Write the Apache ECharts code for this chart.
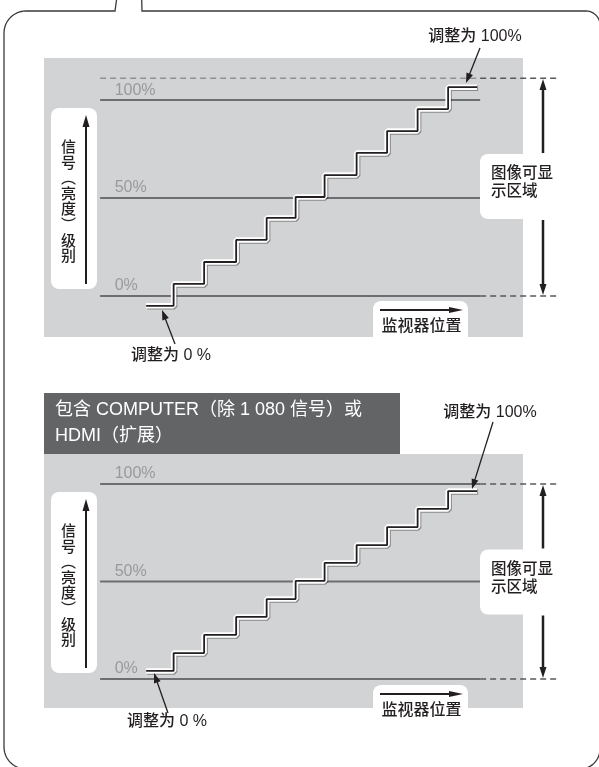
<!DOCTYPE html>
<html>
<head>
<meta charset="utf-8">
<script src="https://cdn.jsdelivr.net/npm/echarts@6/dist/echarts.min.js"></script>
<style>
  html, body { margin: 0; padding: 0; background: #fff; }
  #chart { width: 599px; height: 767px; }
</style>
</head>
<body>
<div id="chart"></div>
<script>
// 横向：监视器位置（单位 = 一级台阶宽度），纵向：信号电平 %
const stepX = [3.35, 4.25, 5.25, 6.3, 7.3, 8.25, 9.2, 10.25, 11.25, 12.25, 13.25, 14.2];
// 上图：调整后 0% 与 100% 都超出范围
const stepsTop = [-5.1, 6.1, 17.3, 28.6, 39.8, 50.5, 61.7, 73.0, 84.2, 95.4, 106.6, 106.6];
// 下图：COMPUTER / HDMI（扩展）
const stepsBottom = [4.1, 13.3, 22.6, 31.8, 41.0, 50.3, 59.5, 68.7, 77.9, 87.2, 96.4, 96.4];
const levelValues = [0, 50, 100];
const levelLabels = ['0%', '50%', '100%'];
const visibleTop = [111.2, 100]; // 图像可显示区域上沿
const lineFrom = 1.84, lineTo = 14.3, dashTo = 16.92, labelX = 2.3;

const FONT = '"Liberation Sans", "Noto Sans CJK SC", sans-serif';
const INK = '#231f20';
const GRAY = '#6d6e71';

function panelSeries(g, steps, top) {
    const s = [];
    levelValues.forEach(v => {
        s.push({
            type: 'line', xAxisIndex: g, yAxisIndex: g, symbol: 'none', silent: true,
            data: [[lineFrom, v], [lineTo, v]],
            lineStyle: { color: GRAY, width: 2 }
        });
    });
    if (top > 100) {
        s.push({
            type: 'line', xAxisIndex: g, yAxisIndex: g, symbol: 'none', silent: true,
            data: [[lineFrom, top], [lineTo, top]],
            lineStyle: { color: '#8f9194', width: 1.5, type: [6, 4] }
        });
    }
    [top, 0].forEach(v => {
        s.push({
            type: 'line', xAxisIndex: g, yAxisIndex: g, symbol: 'none', silent: true,
            data: [[lineTo, v], [dashTo, v]],
            lineStyle: { color: '#58595b', width: 1.5, type: [6, 4] }
        });
    });
    // 台阶：白色描边 + 黑线
    s.push({
        type: 'line', xAxisIndex: g, yAxisIndex: g, symbol: 'none', step: 'end', silent: true,
        data: stepX.map((x, i) => [x, steps[i]]),
        lineStyle: { color: '#fff', width: 5.5, shadowColor: 'rgba(0,0,0,0.35)', shadowOffsetX: 1, shadowOffsetY: 1 },
        z: 3
    });
    s.push({
        type: 'line', xAxisIndex: g, yAxisIndex: g, symbol: 'none', step: 'end', silent: true,
        data: stepX.map((x, i) => [x, steps[i]]),
        lineStyle: { color: INK, width: 1.8 },
        z: 4
    });
    s.push({
        type: 'scatter', xAxisIndex: g, yAxisIndex: g, symbolSize: 1, silent: true,
        itemStyle: { color: 'rgba(0,0,0,0)' },
        data: levelValues.map(v => [labelX, v]),
        label: {
            show: true, position: 'right', distance: 0, offset: [0, -10],
            formatter: p => levelLabels[p.dataIndex],
            color: '#8a8c8f', fontSize: 16, fontFamily: FONT
        }
    });
    return s;
}

function arrow(x1, y1, x2, y2, w, head, half) {
    const dx = x2 - x1, dy = y2 - y1, len = Math.sqrt(dx * dx + dy * dy);
    const ux = dx / len, uy = dy / len;
    const bx = x2 - ux * head, by = y2 - uy * head;
    return [
        { type: 'line', z: 110, shape: { x1: x1, y1: y1, x2: bx + ux, y2: by + uy }, style: { stroke: INK, lineWidth: w } },
        { type: 'polygon', z: 110, shape: { points: [[x2, y2], [bx - uy * half, by + ux * half], [bx + uy * half, by - ux * half]] }, style: { fill: INK } }
    ];
}

function text(t, x, y, size, opts) {
    return Object.assign({
        type: 'text', z: 120,
        style: { text: t, x: x, y: y, font: '500 ' + size + 'px ' + FONT, fill: INK, align: 'center', verticalAlign: 'middle' }
    }, opts || {});
}

function decor(dy, rightMid, rTop, rBot, grayTop, grayH) {
    const els = [];
    // 灰色底
    els.push({ type: 'rect', z: 0, shape: { x: 44, y: grayTop, width: 479, height: grayH }, style: { fill: '#d1d3d4' } });
    // 左侧纵轴说明
    els.push({ type: 'rect', z: 100, shape: { x: 51, y: 108 + dy, width: 46, height: 181, r: 8 }, style: { fill: '#fff' } });
    els.push(...arrow(86, 284 + dy, 86, 115 + dy, 2, 12, 3.5));
    const vt = text('信\n号\n︵\n亮\n度\n︶\n级\n别', 68.5, 202.5 + dy, 15);
    vt.style.lineHeight = 15.6;
    els.push(vt);
    // 底部 监视器位置
    els.push({ type: 'rect', z: 100, shape: { x: 373, y: 301 + dy, width: 95, height: 45, r: [8, 8, 0, 0] }, style: { fill: '#fff' } });
    els.push(...arrow(380, 310 + dy, 463, 310 + dy, 2, 14, 3));
    els.push(text('监视器位置', 421.5, 327 + dy, 16));
    // 右侧 图像可显示区域
    els.push({ type: 'rect', z: 100, shape: { x: 480, y: rightMid - 32, width: 130, height: 65, r: 8 }, style: { fill: '#fff' } });
    const rt = text('图像可显\n示区域', 491, rightMid - 3, 15.5);
    rt.style.align = 'left';
    rt.style.lineHeight = 18;
    els.push(rt);
    els.push(...arrow(543, rightMid - 33, 543, rTop + 1, 2.5, 11, 3.5));
    els.push(...arrow(543, rightMid + 34, 543, rBot - 1, 2.5, 11, 3.5));
    return els;
}

// 外框（圆角 + 顶部接口）
function framePoints() {
    const pts = [[116.5, 0], [115, 11]];
    const corner = (cx, cy, r, a0, a1) => {
        for (let i = 0; i <= 12; i++) {
            const a = a0 + (a1 - a0) * i / 12;
            pts.push([cx + r * Math.cos(a), cy + r * Math.sin(a)]);
        }
    };
    corner(26, 33, 22, -Math.PI / 2, -Math.PI);
    corner(26, 747, 22, Math.PI, Math.PI / 2);
    corner(580, 749, 20, Math.PI / 2, 0);
    corner(586, 25, 14, 0, -Math.PI / 2);
    pts.push([142, 11], [141.7, 0]);
    return pts;
}

const graphics = [
    { type: 'polyline', z: 90, shape: { points: framePoints() }, style: { fill: null, stroke: '#3a3a3a', lineWidth: 1.3 } },
    // 下图标题
    { type: 'rect', z: 100, shape: { x: 44, y: 393, width: 356, height: 61 }, style: { fill: '#636466' } },
    { type: 'text', z: 120, style: { text: '包含 COMPUTER（除 1 080 信号）或', x: 55, y: 410, font: '18px ' + FONT, fill: '#fff', verticalAlign: 'middle' } },
    { type: 'text', z: 120, style: { text: 'HDMI（扩展）', x: 55, y: 436, font: '18px ' + FONT, fill: '#fff', verticalAlign: 'middle' } },
    // 调整说明
    text('调整为 100%', 475, 36.5, 16),
    ...arrow(480, 48, 466, 83, 1.3, 10, 3.5),
    text('调整为 0 %', 171, 355.5, 16),
    ...arrow(175, 344, 162, 310, 1.3, 10, 3.5),
    text('调整为 100%', 490, 412.5, 16),
    ...arrow(493, 422, 472, 489, 1.3, 10, 3.5),
    text('调整为 0 %', 167, 721.5, 16),
    ...arrow(168, 713, 154, 673, 1.3, 10, 3.5),
    ...decor(0, 186, 78, 296, 58, 279),
    ...decor(384, 581.5, 484, 679, 454, 254)
];

const chart = echarts.init(document.getElementById('chart'), null, { renderer: 'canvas' });
chart.setOption({
    animation: false,
    backgroundColor: '#fff',
    // 坐标区向右延伸到虚线末端，灰底单独画
    grid: [
        { left: 44, top: 58, width: 526, height: 279 },
        { left: 44, top: 454, width: 526, height: 254 }
    ],
    xAxis: [
        { type: 'value', gridIndex: 0, min: 0, max: 17.246, show: false },
        { type: 'value', gridIndex: 1, min: 0, max: 17.246, show: false }
    ],
    yAxis: [
        { type: 'value', gridIndex: 0, min: -21, max: 121.5, show: false },
        { type: 'value', gridIndex: 1, min: -14.9, max: 115.4, show: false }
    ],
    series: [
        ...panelSeries(0, stepsTop, visibleTop[0]),
        ...panelSeries(1, stepsBottom, visibleTop[1])
    ],
    graphic: graphics
});
</script>
</body>
</html>
